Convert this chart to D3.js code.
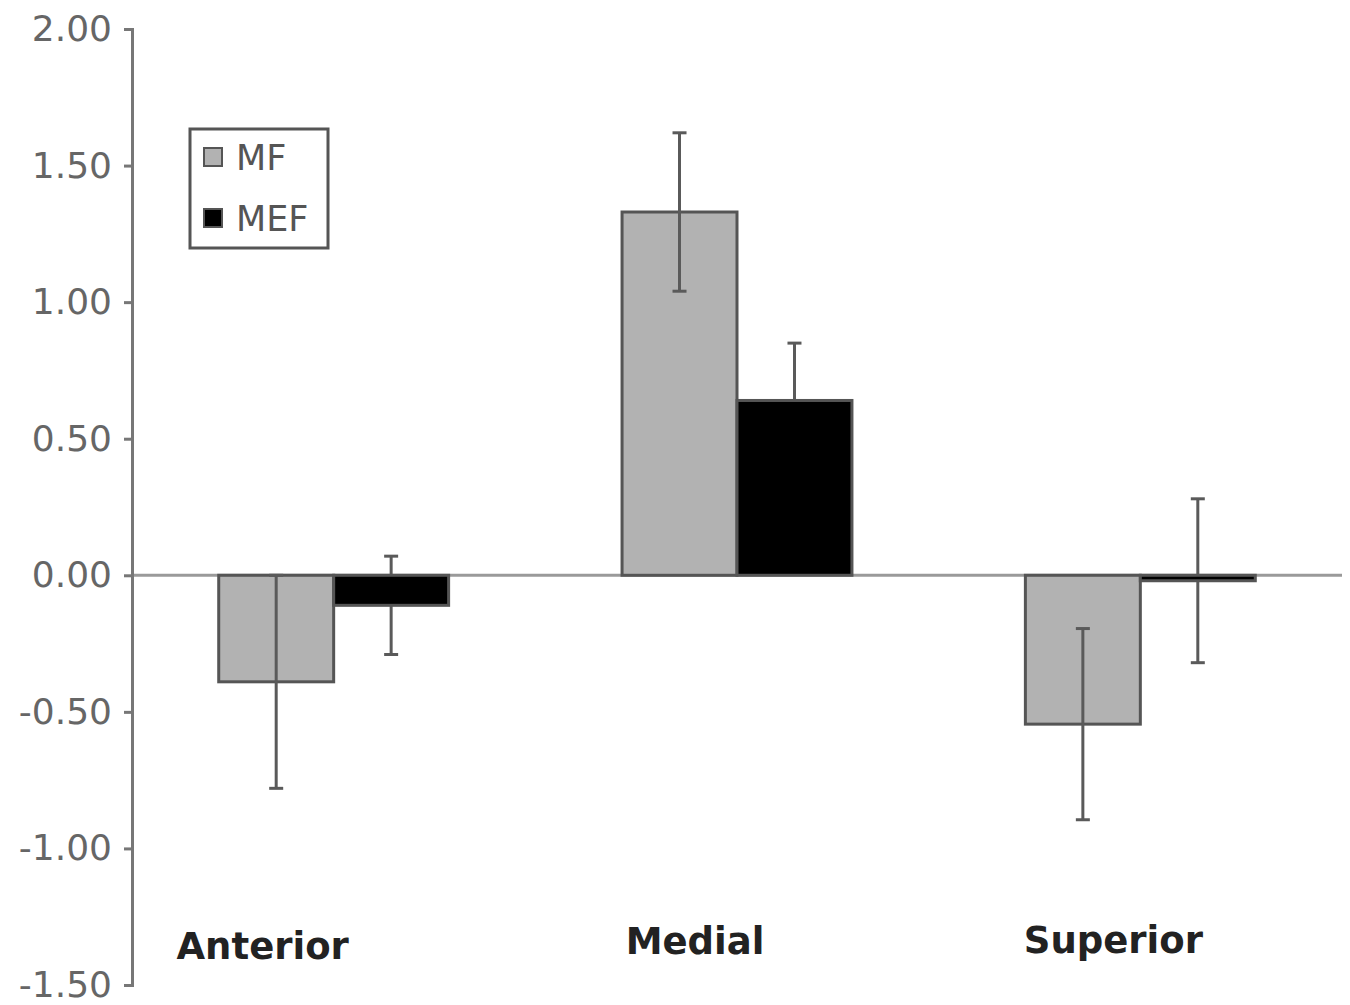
<!DOCTYPE html>
<html>
<head>
<meta charset="utf-8">
<script src="https://cdn.jsdelivr.net/npm/d3@7"></script>
<style>
  html, body { margin: 0; padding: 0; background: #fff; }
  svg { display: block; }
</style>
</head>
<body>
<svg id="chart" width="1350" height="1005"></svg>
<script>
// Regions and measurement series
const categories = ["Anterior", "Medial", "Superior"];
const seriesNames = ["MF", "MEF"];
const mfValues = [-0.39, 1.33, -0.545];
const mefValues = [-0.11, 0.64, -0.02];
const mfErrors = [0.39, 0.29, 0.35];
const mefErrors = [0.18, 0.21, 0.30];
const yTicks = [2.0, 1.5, 1.0, 0.5, 0.0, -0.5, -1.0, -1.5];

const seriesColors = { MF: "#b2b2b2", MEF: "#000000" };

const svg = d3.select("#chart");
const margin = { left: 132, right: 8, top: 29, bottom: 20 };
const W = 1350, H = 1005;

const y = d3.scaleLinear().domain([-1.5, 2.0]).range([985, margin.top]);
const x0 = d3.scaleBand().domain(categories).range([margin.left, W - margin.right]).paddingInner(0.43).paddingOuter(0.215);
const x1 = d3.scaleBand().domain(seriesNames).range([0, x0.bandwidth()]);

const rows = categories.map((c, i) => ({
  cat: c,
  items: [
    { s: "MF", v: mfValues[i], e: mfErrors[i] },
    { s: "MEF", v: mefValues[i], e: mefErrors[i] }
  ]
}));

// zero baseline
svg.append("line")
  .attr("x1", margin.left).attr("x2", 1342)
  .attr("y1", y(0)).attr("y2", y(0))
  .attr("stroke", "#9a9a9a").attr("stroke-width", 3);

const errLayer = svg.append("g");   // MEF error bars sit behind the bars
const barLayer = svg.append("g");
const topErrLayer = svg.append("g"); // MF error bars sit over the bars

// bars
const groups = barLayer.selectAll("g.cat").data(rows).enter().append("g")
  .attr("class", "cat")
  .attr("transform", d => `translate(${x0(d.cat)},0)`);

groups.selectAll("rect").data(d => d.items).enter().append("rect")
  .attr("x", d => x1(d.s))
  .attr("width", x1.bandwidth())
  .attr("y", d => Math.min(y(d.v), y(0)))
  .attr("height", d => Math.abs(y(d.v) - y(0)))
  .attr("fill", d => seriesColors[d.s])
  .attr("stroke", "#555")
  .attr("stroke-width", 3);

// error bars
const capHalf = 7;
rows.forEach(r => r.items.forEach(d => {
  const layer = d.s === "MF" ? topErrLayer : errLayer;
  const g = layer.append("g");
  const cx = x0(r.cat) + x1(d.s) + x1.bandwidth() / 2;
  const hi = y(d.v + d.e), lo = y(d.v - d.e);
  g.append("line").attr("x1", cx).attr("x2", cx).attr("y1", hi).attr("y2", lo)
    .attr("stroke", "#5a5a5a").attr("stroke-width", 3);
  [hi, lo].forEach(yy => g.append("line")
    .attr("x1", cx - capHalf).attr("x2", cx + capHalf).attr("y1", yy).attr("y2", yy)
    .attr("stroke", "#5a5a5a").attr("stroke-width", 3));
}));

// y axis
const yAxis = d3.axisLeft(y).tickValues(yTicks).tickFormat(d3.format(".2f")).tickSize(8).tickPadding(12);
const ag = svg.append("g").attr("transform", `translate(${margin.left},0)`).call(yAxis);
ag.select(".domain").attr("stroke", "#777").attr("stroke-width", 3);
ag.selectAll(".tick line").attr("stroke", "#777").attr("stroke-width", 3);
ag.selectAll(".tick text")
  .attr("fill", "#666")
  .style("font-family", "'DejaVu Sans', Verdana, sans-serif")
  .style("font-size", "36px")
  .text(d => d3.format(".2f")(d).replace("−", "-"));

// category labels along the bottom
const labelShift = [-71, -42, -27];
svg.selectAll("text.catlabel").data(categories).enter().append("text")
  .attr("class", "catlabel")
  .attr("x", (d, i) => x0(d) + x0.bandwidth() / 2 + labelShift[i])
  .attr("y", (d, i) => [959, 954, 953][i])
  .attr("text-anchor", "middle")
  .attr("fill", "#222")
  .style("font-family", "'DejaVu Sans', Verdana, sans-serif")
  .style("font-weight", "bold")
  .style("font-size", "37px")
  .text(d => d);

// legend
const legend = svg.append("g").attr("transform", "translate(190,129)");
legend.append("rect").attr("width", 138).attr("height", 119)
  .attr("fill", "#fff").attr("stroke", "#555").attr("stroke-width", 3);
seriesNames.forEach((s, i) => {
  const gy = 28 + i * 61;
  legend.append("rect").attr("x", 14).attr("y", gy - 9).attr("width", 18).attr("height", 18)
    .attr("fill", seriesColors[s]).attr("stroke", "#555").attr("stroke-width", 2);
  legend.append("text").attr("x", 46).attr("y", gy + 13)
    .attr("fill", "#555")
    .style("font-family", "'DejaVu Sans', Verdana, sans-serif")
    .style("font-size", "35px")
    .text(s);
});
</script>
</body>
</html>
